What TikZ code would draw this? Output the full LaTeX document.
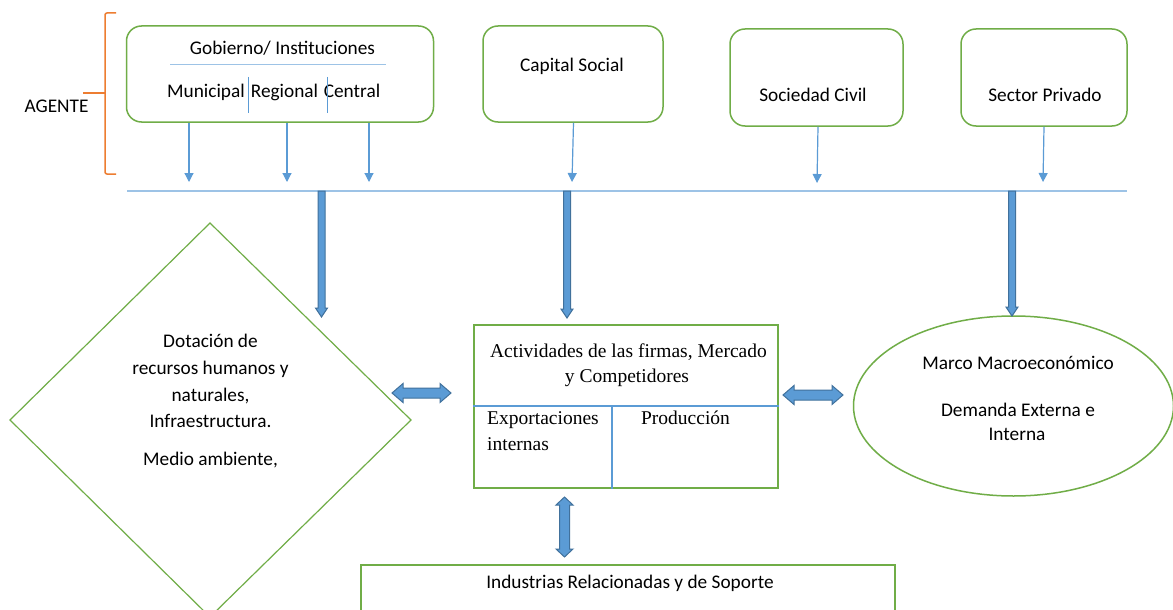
\documentclass[tikz,border=0pt]{standalone}
\usepackage{fontspec}
\setmainfont{Carlito}
\newfontfamily\tnr{Liberation Serif}
\usetikzlibrary{calc,arrows.meta,shapes.geometric}
\definecolor{grn}{HTML}{70AD47}
\definecolor{blu}{HTML}{5B9BD5}
\definecolor{bluD}{HTML}{41719C}
\definecolor{bluL}{HTML}{9DC3E6}
\definecolor{org}{HTML}{ED7D31}
\tikzset{
  rbox/.style={draw=grn, line width=1.5pt, rounded corners=15pt, inner sep=0pt},
  gbox/.style={draw=grn, inner sep=0pt},
  txt/.style={font=\fontsize{19.3}{23}\selectfont, inner sep=0pt, anchor=base},
  stxt/.style={font=\tnr\fontsize{19.5}{23}\selectfont, inner sep=0pt, anchor=base},
  thinarrow/.style={draw=blu, line width=1.2pt, -{Triangle[width=9pt,length=9pt]}},
  blockarrow/.style={fill=blu, draw=bluD, line width=1pt, line join=miter},
  sep/.style={draw=blu, line width=1.2pt},
}
\newcommand{\downblock}[2]{\path[blockarrow] let \p1=(#1), \p2=(#2) in
  (\x1-3.5pt,\y1) -- (\x1+3.5pt,\y1) -- (\x1+3.5pt,\y2+9pt) -- (\x1+6pt,\y2+9pt) -- (\x1,\y2)
  -- (\x1-6pt,\y2+9pt) -- (\x1-3.5pt,\y2+9pt) -- cycle;}
\newcommand{\hdouble}[2]{\path[blockarrow] let \p1=(#1), \p2=(#2) in
  (\x1,\y1) -- (\x1+11pt,\y1+9.5pt) -- (\x1+11pt,\y1+5pt) -- (\x2-11pt,\y1+5pt) -- (\x2-11pt,\y1+9.5pt)
  -- (\x2,\y1) -- (\x2-11pt,\y1-9.5pt) -- (\x2-11pt,\y1-5pt) -- (\x1+11pt,\y1-5pt) -- (\x1+11pt,\y1-9.5pt) -- cycle;}
\newcommand{\vdouble}[2]{\path[blockarrow] let \p1=(#1), \p2=(#2) in
  (\x1,\y1) -- (\x1+8.5pt,\y1-8pt) -- (\x1+5pt,\y1-8pt) -- (\x1+5pt,\y2+8pt) -- (\x1+8.5pt,\y2+8pt)
  -- (\x1,\y2) -- (\x1-8.5pt,\y2+8pt) -- (\x1-5pt,\y2+8pt) -- (\x1-5pt,\y1-8pt) -- (\x1-8.5pt,\y1-8pt) -- cycle;}
\begin{document}
\begin{tikzpicture}[x=1pt,y=-1pt]
\useasboundingbox (0,0) rectangle (1173,610);
\clip (0,0) rectangle (1173,610);
\fill[white] (0,0) rectangle (1173,610);

% bracket
\draw[org, line width=1.5pt, rounded corners=2pt] (116,13) -- (105,13) -- (105,174) -- (116,174);
\draw[org, line width=1.5pt] (83,93) -- (105,93);
\node[txt] (agente) at (56.5,112) {AGENTE};

% top boxes
\node[rbox, minimum width=307pt, minimum height=96pt] (gob) at (280,74) {};
\node[txt] (gobt) at (282.5,55) {Gobierno/ Instituciones};
\draw[draw=bluL, line width=1.5pt] (170,64.5) -- (386,64.5);
\node[txt] (mun) at (206,97) {Municipal};
\node[txt] (reg) at (284.5,97) {Regional};
\node[txt] (cen) at (352,97) {Central};
\draw[sep, line width=1pt] (248,77) -- (248,113);
\draw[sep, line width=1pt] (327,77) -- (327,113);

\node[rbox, minimum width=180pt, minimum height=96pt] (cap) at (573,74) {};
\node[txt] (capt) at (572,71) {Capital Social};
\node[rbox, minimum width=173pt, minimum height=97pt] (soc) at (816.5,77.5) {};
\node[txt] (soct) at (813,101) {Sociedad Civil};
\node[rbox, minimum width=166pt, minimum height=97pt] (pri) at (1044,77.5) {};
\node[txt] (prit) at (1045,101) {Sector Privado};

% bus line
\coordinate (busL) at (127,191);
\coordinate (busR) at (1127,191);
\draw[draw=bluL, line width=1.5pt] (busL) -- (busR);

% thin arrows
\coordinate (a1) at (189,182); \coordinate (a2) at (287,182); \coordinate (a3) at (369,182);
\draw[thinarrow] (gob.south -| a1) -- (a1);
\draw[thinarrow] (gob.south -| a2) -- (a2);
\draw[thinarrow] (gob.south -| a3) -- (a3);
\coordinate (a4) at (572,182);
\draw[thinarrow] (cap.south -| 573.5,0) -- (a4);
\coordinate (a5) at (817,183);
\draw[thinarrow] (soc.south -| 818,0) -- (a5);
\coordinate (a6) at (1043,182);
\draw[thinarrow] (pri.south -| 1044,0) -- (a6);

% diamond
\coordinate (dtop) at (210,223);
\coordinate (dright) at (411,420);
\coordinate (dbot) at (210,617);
\coordinate (dleft) at (10,420);
\draw[grn, line width=1.2pt] (dtop) -- (dright) -- (dbot) -- (dleft) -- cycle;
\node[txt] (d1) at (210.5,347) {Dotación de};
\node[txt] (d2) at (210.5,374) {recursos humanos y};
\node[txt] (d3) at (210.5,401) {naturales,};
\node[txt] (d4) at (210.5,427) {Infraestructura.};
\node[txt] (d5) at (210.5,465) {Medio ambiente,};

% central box
\node[gbox, line width=2pt, minimum width=304pt, minimum height=163pt] (act) at (626,406.5) {};
\draw[sep] (act.west |- 0,406) -- (act.east |- 0,406);
\draw[sep] (612,406) -- (act.south -| 612,0);
\node[stxt] (actt1) at (628.5,357) {Actividades de las firmas, Mercado};
\node[stxt] (actt2) at (627,382) {y Competidores};
\node[stxt, anchor=base west] (exp1) at (487,424) {Exportaciones};
\node[stxt, anchor=base west] (exp2) at (487,450) {internas};
\node[stxt] (prod) at (685.5,424) {Producción};

% ellipse
\node[draw=grn, line width=1.5pt, ellipse, minimum width=320pt, minimum height=180pt, inner sep=0pt] (mac) at (1013.5,406) {};
\node[txt] (m1) at (1018,369) {Marco Macroeconómico};
\node[txt] (m2) at (1018,416) {Demanda Externa e};
\node[txt] (m3) at (1017,440) {Interna};

% bottom box
\node[gbox, line width=1.5pt, minimum width=534pt, minimum height=80pt] (ind) at (628,605) {};
\node[txt] (indt) at (630,588) {Industrias Relacionadas y de Soporte};

% block arrows
\coordinate (b1s) at (321.5,191); \coordinate (b1e) at (321.5,317);
\coordinate (b2s) at (567,191); \coordinate (b2e) at (567,318);
\coordinate (b3s) at (1012,191); \coordinate (b3e) at (1012,316);
\downblock{b1s}{b1e}
\downblock{b2s}{b2e}
\downblock{b3s}{b3e}
\coordinate (h1a) at (392,393); \coordinate (h1b) at (451,393);
\hdouble{h1a}{h1b}
\coordinate (h2a) at (783,395); \coordinate (h2b) at (843,395);
\hdouble{h2a}{h2b}
\coordinate (v1a) at (564.5,497); \coordinate (v1b) at (564.5,557);
\vdouble{v1a}{v1b}
\end{tikzpicture}
\end{document}
